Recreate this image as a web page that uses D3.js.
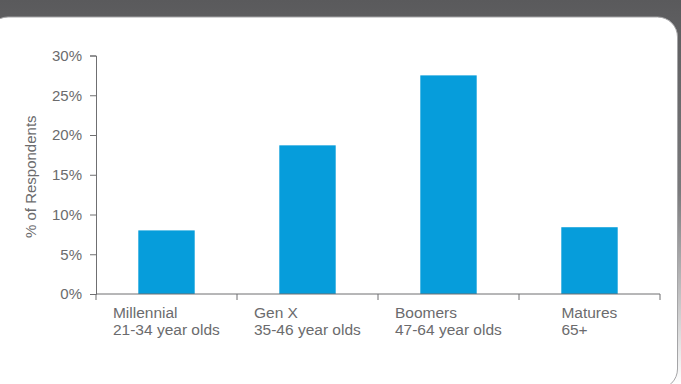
<!DOCTYPE html>
<html>
<head>
<meta charset="utf-8">
<script src="https://cdn.jsdelivr.net/npm/d3@7"></script>
<style>
  html, body { margin: 0; padding: 0; background: #fff; }
  svg { display: block; }
  text { font-family: "Liberation Sans", Arial, Helvetica, sans-serif; fill: #6b6b6d; }
</style>
</head>
<body>
<svg id="chart" width="681" height="384"></svg>
<script>
// Generations and their share of respondents (%)
const generations = ["Millennial", "Gen X", "Boomers", "Matures"];
const ageRanges = ["21-34 year olds", "35-46 year olds", "47-64 year olds", "65+"];
const shares = [8.0, 18.7, 27.5, 8.4];
const yTicks = [0, 5, 10, 15, 20, 25, 30];
const yTitle = "% of Respondents";

const W = 681, H = 384;
const svg = d3.select("#chart");

// Backdrop: dark header fading out toward the bottom
const defs = svg.append("defs");
const grad = defs.append("linearGradient")
  .attr("id", "bg").attr("x1", 0).attr("y1", 0).attr("x2", 0).attr("y2", 1);
grad.append("stop").attr("offset", "0%").attr("stop-color", "#5a5a5c");
grad.append("stop").attr("offset", "50%").attr("stop-color", "#7a7a7c");
grad.append("stop").attr("offset", "100%").attr("stop-color", "#ffffff");
svg.append("rect").attr("width", W).attr("height", H).attr("fill", "url(#bg)");

// White card holding the chart
svg.append("rect")
  .attr("x", -12).attr("y", 17)
  .attr("width", 689.5).attr("height", 372)
  .attr("rx", 20).attr("ry", 20)
  .attr("fill", "#ffffff")
  .attr("stroke", "#a5a5a7").attr("stroke-width", 1);

const plotLeft = 96, plotRight = 660, plotTop = 55.5, plotBottom = 294;

const x = d3.scaleBand().domain(generations).range([plotLeft, plotRight]).padding(0);
const y = d3.scaleLinear().domain([0, 30]).range([plotBottom, plotTop]);

// Bars
const barW = x.bandwidth() * 0.40;
svg.append("g").selectAll("rect")
  .data(generations)
  .join("rect")
  .attr("x", (d) => x(d) + (x.bandwidth() - barW) / 2)
  .attr("y", (d, i) => y(shares[i]))
  .attr("width", barW)
  .attr("height", (d, i) => y(0) - y(shares[i]))
  .attr("fill", "#069ddb");

// Y axis
const yAxis = d3.axisLeft(y)
  .tickValues(yTicks)
  .tickFormat((d) => d + "%")
  .tickSize(6)
  .tickPadding(8);
const gy = svg.append("g").attr("transform", `translate(${plotLeft},0)`).call(yAxis);
gy.select(".domain").attr("stroke", "#6f6f71");
gy.selectAll(".tick line").attr("stroke", "#6f6f71");
gy.selectAll(".tick text").style("font-size", "15px").attr("fill", "#6b6b6d");

// X axis: ticks at the band boundaries
const gx = svg.append("g").attr("transform", `translate(0,${plotBottom})`);
gx.append("line")
  .attr("x1", plotLeft).attr("x2", plotRight)
  .attr("stroke", "#6f6f71");
const boundaries = generations.map((d) => x(d)).concat([plotRight]);
gx.selectAll("line.tick")
  .data(boundaries)
  .join("line")
  .attr("class", "tick")
  .attr("x1", (d) => d).attr("x2", (d) => d)
  .attr("y1", 0).attr("y2", 6)
  .attr("stroke", "#6f6f71");

// Two-line category labels, left-aligned block centred in each band
const labels = svg.append("g");
generations.forEach((g, i) => {
  const t = labels.append("text")
    .style("font-size", "15.5px")
    .attr("fill", "#6b6b6d");
  t.append("tspan").attr("x", 0).attr("y", 318).text(g);
  t.append("tspan").attr("x", 0).attr("y", 335).text(ageRanges[i]);
  const w = t.node().getBBox().width;
  const cx = x(g) + x.bandwidth() / 2;
  t.selectAll("tspan").attr("x", cx - w / 2);
});

// Y axis title
svg.append("text")
  .attr("transform", `translate(36,${(plotTop + plotBottom) / 2 + 2}) rotate(-90)`)
  .attr("text-anchor", "middle")
  .style("font-size", "15px")
  .attr("fill", "#6b6b6d")
  .text(yTitle);
</script>
</body>
</html>
